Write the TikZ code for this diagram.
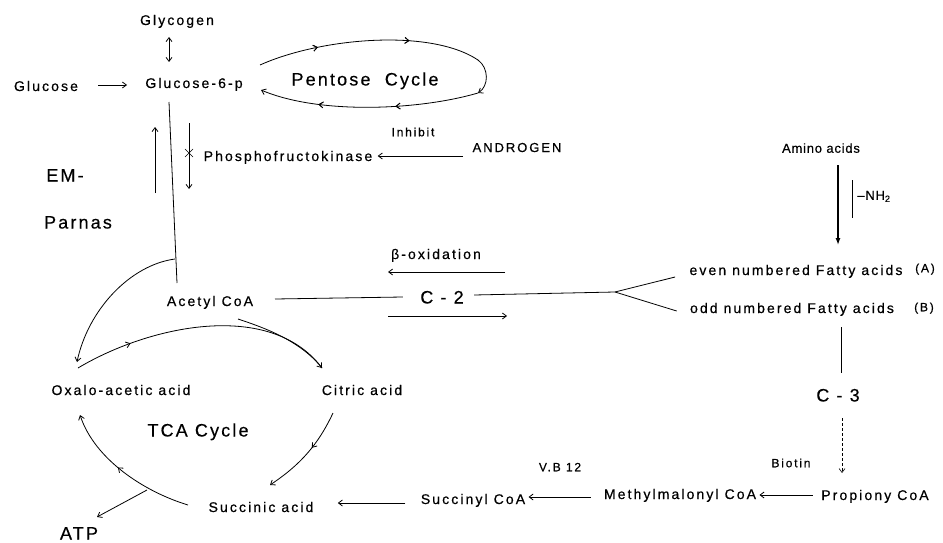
\documentclass[tikz,border=0pt]{standalone}
\usepackage{fontspec}
\setmainfont{Liberation Sans}[LetterSpace=15,FakeBold=0.5]
\newfontfamily\bigfont{Liberation Sans}[LetterSpace=12,FakeBold=0.4]
\newfontfamily\narrowfont{Liberation Sans}[LetterSpace=6,FakeBold=0.4]
\usetikzlibrary{arrows.meta,decorations.markings,calc}
\begin{document}
\begin{tikzpicture}[x=1pt,y=-1pt, line width=0.8pt,
  lbl/.style={inner sep=0pt, text height=10pt, text depth=0pt, font=\fontsize{14}{16}\selectfont},
  biglbl/.style={inner sep=0pt, text height=13pt, text depth=0pt, font=\bigfont\fontsize{18}{20}\selectfont},
  smalllbl/.style={inner sep=0pt, text height=8.5pt, text depth=0pt, font=\fontsize{12}{14}\selectfont},
  aminolbl/.style={inner sep=0pt, text height=9.5pt, text depth=0pt, font=\narrowfont\fontsize{13}{15}\selectfont},
  arr/.style={-{Straight Barb[length=4pt,width=6pt]}},
  dblarr/.style={{Straight Barb[length=4pt,width=6pt]}-{Straight Barb[length=4pt,width=6pt]}},
  barb/.style={decoration={markings,mark=at position #1 with {\arrow{Straight Barb[length=4pt,width=6pt]}}},postaction={decorate}},
]
\useasboundingbox (0,0) rectangle (943,543);

% ---------- nodes ----------
\node[lbl] (glycogen) at (177,20) {Glycogen};
\node[lbl] (glucose) at (46,86) {Glucose};
\node[lbl] (g6p) at (194,83) {Glucose-6-p};
\node[biglbl] (pentose) at (365,79) {Pentose\ \ Cycle};
\node[lbl] (pfk) at (288,156) {Phosphofructokinase};
\node[smalllbl] (inhibit) at (413,132) {Inhibit};
\node[lbl, font=\fontsize{13}{15}\selectfont] (androgen) at (517,147) {ANDROGEN};
\node[biglbl] (em) at (65,175) {EM-};
\node[biglbl] (parnas) at (78,222) {Parnas};
\node[lbl] (acetyl) at (210,301) {Acetyl CoA};
\node[biglbl] (c2) at (442,297) {C - 2};
\node[lbl] (beta) at (436,254) {β-oxidation};
\node[lbl] (even) at (796,270) {even\ numbered\ Fatty\ acids};
\node[smalllbl] (evenA) at (925,268) {(A)};
\node[lbl] (odd) at (792,308) {odd\ numbered\ Fatty\ acids};
\node[smalllbl] (oddB) at (924,307) {(B)};
\node[aminolbl] (amino) at (821,148) {Amino acids};
\node[aminolbl, anchor=west] (nh2) at (857,195) {–NH\textsubscript{2}};
\node[biglbl] (c3) at (838,395) {C - 3};
\node[smalllbl] (biotin) at (791,463) {Biotin};
\node[lbl] (propiony) at (875,495) {Propiony CoA};
\node[lbl] (methyl) at (680,494) {Methylmalonyl CoA};
\node[smalllbl] (vb12) at (560,467) {V.B 12};
\node[lbl] (succinyl) at (473,499) {Succinyl CoA};
\node[lbl] (succinic) at (261,507) {Succinic acid};
\node[biglbl] (atp) at (79,533) {ATP};
\node[lbl] (oxalo) at (121,390) {Oxalo-acetic acid};
\node[lbl] (citric) at (362,390) {Citric acid};
\node[biglbl] (tca) at (198,430) {TCA Cycle};

% ---------- top part ----------
\draw[dblarr] ($(glycogen)+(-8,17)$) -- ($(g6p)+(-25,-21)$);
\draw[arr] ($(glucose)+(52,-1)$) -- ($(g6p)+(-67,2)$);

% pentose cycle
\coordinate (pa) at ($(g6p)+(66,-18)$);
\coordinate (pb) at ($(pentose)+(113,-19)$);
\coordinate (pc) at ($(pentose)+(113,14)$);
\coordinate (pd) at ($(g6p)+(67,7)$);
\draw[barb=0.27, barb=0.68] (pa) .. controls (320,38) and (430,28) .. (pb);
\draw[arr] (pb) .. controls (489,68) and (489,86) .. (pc);
\draw[arr, barb=0.38, barb=0.73] (pc) .. controls (420,110) and (320,115) .. (pd);

% glycolysis lines
\draw ($(g6p)+(-25,19)$) -- ($(acetyl)+(-33,-18)$);
\draw[arr] ($(g6p)+(-39,110)$) -- ($(g6p)+(-39,44)$);
\draw[arr] ($(g6p)+(-5,40)$) -- ($(g6p)+(-5,106)$);
\draw[line width=0.7pt] ($(g6p)+(-9,66)$) -- ($(g6p)+(-1,74)$)
                        ($(g6p)+(-9,74)$) -- ($(g6p)+(-1,66)$);
\draw[arr] ($(androgen)+(-54,9)$) -- ($(pfk.east)+(5,0)$);

% ---------- TCA cycle ----------
\coordinate (side) at ($(acetyl)+(-35,-42)$);
\coordinate (cit-in) at ($(citric)+(-40,-22)$);
\draw[arr] (side) .. controls (130,265) and (88,310) .. ($(oxalo)+(-44,-28)$);
\draw[arr, barb=0.22] ($(oxalo)+(-43,-22)$) .. controls (150,325) and (270,300) .. (cit-in);
\draw ($(acetyl)+(28,18)$) .. controls (262,327) and (300,340) .. (cit-in);
\draw[arr, barb=0.42] ($(citric)+(-29,23)$) .. controls (318,445) and (300,465) .. ($(succinic)+(9,-22)$);
\draw[arr, barb=0.55] ($(succinic)+(-73,-2)$) .. controls (145,492) and (95,460) .. ($(oxalo)+(-41,25)$);
\draw[arr] (147,490) -- ($(atp)+(18,-16)$);

% ---------- lower chain ----------
\draw[arr] ($(succinyl.west)+(-15,4)$) -- ($(succinic.east)+(24,-4)$);
\draw[arr] ($(methyl.west)+(-13,3)$) -- ($(succinyl.east)+(3,-2)$);
\draw[arr] ($(propiony.west)+(-8,0)$) -- ($(methyl.east)+(3,1)$);
\draw[arr, densely dashed, line width=0.6pt] ($(c3)+(4,23)$) -- ($(c3)+(4,78)$);
\draw ($(odd)+(49,19)$) -- ($(odd)+(49,65)$);

% ---------- amino acids ----------
\draw[line width=1.3pt, -{Latex[length=7pt,width=5pt]}] ($(amino)+(17,17)$) -- ($(even)+(42,-25)$);
\draw ($(nh2.west)+(-5,-15)$) -- ($(nh2.west)+(-5,23)$);

% ---------- C-2 / fatty acids ----------
\coordinate (fork) at ($(even)+(-181,22)$);
\draw ($(acetyl)+(65,-2)$) -- ($(c2.west)+(-17,0)$);
\draw ($(c2.east)+(10,-2)$) -- (fork);
\draw (fork) -- ($(even.west)+(-14,7)$);
\draw (fork) -- ($(odd.west)+(-13,3)$);
\draw[arr] ($(beta)+(69,18)$) -- ($(beta)+(-48,18)$);
\draw[arr] ($(beta)+(-48,62)$) -- ($(beta)+(71,62)$);
\end{tikzpicture}
\end{document}
